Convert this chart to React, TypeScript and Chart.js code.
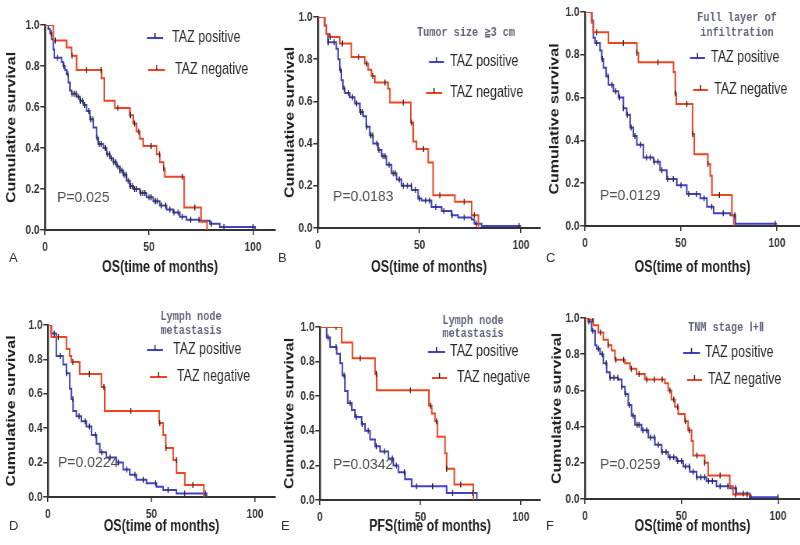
import React, { useEffect, useRef } from 'react';
import { Chart, registerables } from 'chart.js';
Chart.register(...registerables);

// ---------- shared labels ----------
const xTickValues = [0, 50, 100];
const yTickValues = [0, 0.2, 0.4, 0.6, 0.8, 1.0];
const seriesLabels = ['TAZ positive', 'TAZ negative'];
const yTitle = 'Cumulative survival';
const panelLetters = ['A', 'B', 'C', 'D', 'E', 'F'];
const xTitles = ['OS(time of months)', 'OS(time of months)', 'OS(time of months)', 'OS(time of months)', 'PFS(time of months)', 'OS(time of months)'];
const subtitles = [[], ['Tumor size ≧3 cm'], ['Full layer of', 'infiltration'], ['Lymph node', 'metastasis'], ['Lymph node', 'metastasis'], ['TNM stage Ⅰ+Ⅱ']];
const pValues = ['P=0.025', 'P=0.0183', 'P=0.0129', 'P=0.0224', 'P=0.0342', 'P=0.0259'];

// ---------- Panel A ----------
const aPosT = [0, 1.6, 2.4, 3.2, 4, 4.5, 8, 8.8, 9.6, 10.4, 11.2, 12, 12.8, 15.2, 16.8, 18.4, 20, 21.6, 23.2, 24.8, 25.6, 28, 29.6, 31.2, 32.8, 34.4, 36, 37.6, 39.2, 40.8, 42.4, 45.6, 48.8, 52, 55.2, 58.4, 61.6, 64.8, 68, 74.4, 79.2, 84, 101];
const aPosS = [1, 0.98, 0.96, 0.93, 0.88, 0.84, 0.82, 0.8, 0.78, 0.76, 0.72, 0.68, 0.665, 0.65, 0.63, 0.61, 0.58, 0.54, 0.5, 0.45, 0.42, 0.4, 0.37, 0.35, 0.33, 0.31, 0.29, 0.27, 0.24, 0.215, 0.2, 0.18, 0.16, 0.14, 0.12, 0.1, 0.085, 0.065, 0.05, 0.045, 0.03, 0.015, 0];
const aPosC = [3, 6, 9, 11, 13, 14, 15, 16, 17, 18, 19, 21, 22, 23, 25, 26, 27, 29, 30, 31, 32, 33, 34, 35, 36, 37, 38, 39, 40, 41, 42, 43, 44, 46, 47, 48, 50, 51, 53, 54, 56, 58, 60, 62, 64, 66, 70, 74, 80, 86, 100];
const aNegT = [0, 4, 10.4, 12.8, 15.2, 27.2, 28.5, 33.6, 40.8, 42.4, 44, 45.6, 47.2, 53.6, 55.2, 57, 57.6, 66.9, 75, 77.9];
const aNegS = [1, 0.925, 0.89, 0.85, 0.78, 0.74, 0.63, 0.595, 0.56, 0.52, 0.48, 0.445, 0.41, 0.37, 0.33, 0.3, 0.26, 0.11, 0.04, 0];
const aNegC = [5, 13, 20, 27, 35, 41, 43, 45, 51, 55, 57, 66, 72];

// ---------- Panel B ----------
const bPosT = [0, 3.3, 4.1, 4.9, 9, 9.9, 10.7, 11.5, 12.3, 13.2, 15.6, 18.1, 20.6, 22.2, 23.8, 25.5, 27.1, 29.6, 31.3, 33.7, 36.2, 38.7, 41.1, 46.1, 49.3, 51, 55.9, 60.9, 65.8, 69, 75.7, 77, 80.6, 100];
const bPosS = [1, 0.96, 0.92, 0.88, 0.85, 0.8, 0.75, 0.7, 0.66, 0.64, 0.62, 0.59, 0.55, 0.53, 0.48, 0.44, 0.4, 0.37, 0.34, 0.3, 0.26, 0.23, 0.2, 0.18, 0.14, 0.13, 0.1, 0.08, 0.06, 0.05, 0.04, 0.02, 0.01, 0.01];
const bPosC = [5, 8, 11, 13, 15, 17, 19, 21, 22, 24, 26, 27, 29, 30, 32, 33, 35, 37, 38, 40, 42, 44, 46, 48, 50, 53, 55, 58, 62, 66, 72, 78, 99];
const bNegT = [0, 3.3, 4.1, 5.7, 10.7, 16.4, 23, 24.7, 26.3, 28, 34.5, 35.4, 45.7, 46.9, 48.5, 54.3, 56.7, 67.4, 75.7, 79];
const bNegS = [1, 0.96, 0.92, 0.905, 0.875, 0.81, 0.78, 0.75, 0.72, 0.69, 0.66, 0.595, 0.5, 0.41, 0.375, 0.31, 0.155, 0.125, 0.06, 0];
const bNegC = [6, 12, 20, 24, 27, 33, 42, 46, 52, 60, 72, 77];

// ---------- Panel C ----------
const cPosT = [0, 3.5, 4.3, 5.2, 7.8, 8.7, 9.6, 11, 12.2, 14.8, 17.4, 20, 21.7, 23.5, 25.2, 27, 30.4, 35.7, 39.1, 42.6, 47.8, 53, 60, 63.5, 67, 75.7, 78.3, 100];
const cPosS = [1, 0.96, 0.88, 0.855, 0.82, 0.78, 0.74, 0.7, 0.66, 0.63, 0.6, 0.55, 0.52, 0.46, 0.42, 0.38, 0.32, 0.3, 0.26, 0.22, 0.19, 0.15, 0.13, 0.09, 0.06, 0.05, 0.01, 0.01];
const cPosC = [6, 9, 12, 14, 16, 18, 20, 22, 24, 26, 29, 32, 34, 36, 38, 40, 43, 46, 50, 54, 58, 62, 66, 72, 78, 99];
const cNegT = [0, 3.5, 4.3, 12.2, 27, 27.8, 46.1, 47, 47.5, 56, 56.9, 64, 65.2, 66.1, 76.5, 77.5];
const cNegS = [1, 0.95, 0.905, 0.855, 0.81, 0.765, 0.72, 0.62, 0.57, 0.43, 0.335, 0.29, 0.235, 0.145, 0.05, 0];
const cNegC = [6, 20, 27, 38, 47, 53, 56, 64, 70];

// ---------- Panel D ----------
const dPosT = [0, 1.6, 4, 7.3, 8.9, 10.5, 11.3, 12.1, 13.7, 16.1, 18.5, 21, 23.4, 25, 28.2, 33, 36.3, 39.5, 42.7, 47.6, 52.4, 55.6, 62, 76.6];
const dPosS = [1, 0.95, 0.82, 0.77, 0.72, 0.63, 0.57, 0.5, 0.47, 0.44, 0.41, 0.36, 0.31, 0.26, 0.23, 0.2, 0.16, 0.13, 0.1, 0.08, 0.06, 0.04, 0.02, 0];
const dPosC = [3, 6, 9, 12, 15, 18, 20, 23, 26, 30, 34, 38, 42, 46, 52, 58, 66, 76];
const dNegT = [0, 1.6, 8.9, 10.5, 11.3, 15.3, 25.8, 27.4, 53.7, 55.6, 56.9, 60.5, 62.1, 66.1, 75.3];
const dNegS = [1, 0.93, 0.86, 0.82, 0.785, 0.715, 0.64, 0.5, 0.43, 0.36, 0.285, 0.215, 0.14, 0.07, 0];
const dNegC = [5, 12, 20, 27, 40, 54, 57, 62, 70];

// ---------- Panel E ----------
const ePosT = [0, 3.3, 5, 8.3, 10, 11.1, 12.4, 13.8, 15.8, 17.4, 20.7, 22.4, 24.9, 27.4, 29.9, 34, 36.5, 39, 42.3, 45.6, 63, 78];
const ePosS = [1, 0.94, 0.885, 0.845, 0.79, 0.72, 0.63, 0.56, 0.52, 0.48, 0.44, 0.4, 0.35, 0.31, 0.28, 0.24, 0.2, 0.16, 0.12, 0.08, 0.04, 0];
const ePosC = [4, 8, 12, 15, 18, 21, 24, 28, 32, 36, 38, 42, 48, 56, 66, 76];
const eNegT = [0, 10.8, 16.1, 27.4, 28.2, 54.2, 55.6, 57.2, 58.4, 62.2, 63, 66.8, 76.3];
const eNegS = [1, 0.91, 0.82, 0.73, 0.635, 0.545, 0.5, 0.455, 0.365, 0.27, 0.18, 0.09, 0];
const eNegC = [8, 20, 28, 45, 55, 58, 63, 70];

// ---------- Panel F ----------
const fPosT = [0, 1.7, 3.4, 5.2, 6, 7.8, 9.5, 11.2, 12.9, 17.2, 19, 20.7, 22.4, 24.1, 25.9, 29.3, 32.8, 36.2, 39.7, 43.1, 47.4, 50.9, 54.3, 57.8, 62.9, 68.1, 75, 78.4, 85.3, 100];
const fPosS = [1, 0.98, 0.93, 0.85, 0.83, 0.8, 0.75, 0.7, 0.67, 0.66, 0.62, 0.58, 0.52, 0.46, 0.41, 0.38, 0.34, 0.3, 0.26, 0.23, 0.21, 0.18, 0.15, 0.12, 0.1, 0.07, 0.06, 0.03, 0.01, 0.01];
const fPosC = [2, 4, 7, 9, 11, 13, 15, 17, 19, 21, 23, 25, 27, 28, 30, 32, 34, 36, 38, 40, 42, 44, 46, 48, 50, 52, 54, 56, 58, 60, 62, 64, 66, 70, 74, 78, 82, 86, 100];
const fNegT = [0, 1.7, 4.3, 6.9, 9.5, 12, 13.8, 15.5, 20.7, 23.3, 26.7, 31, 41.4, 43.1, 44.8, 46.6, 48.3, 51.7, 53.4, 55.2, 56, 62, 63.8, 75, 76.7, 86];
const fNegS = [1, 0.99, 0.96, 0.92, 0.88, 0.85, 0.82, 0.77, 0.75, 0.72, 0.69, 0.66, 0.64, 0.6, 0.55, 0.51, 0.47, 0.43, 0.38, 0.32, 0.24, 0.2, 0.13, 0.07, 0.025, 0.025];
const fNegC = [4, 8, 12, 16, 20, 24, 28, 32, 36, 40, 44, 46, 48, 52, 54, 58, 62, 70, 78, 84];

const curves = [
  { pos: [aPosT, aPosS, aPosC], neg: [aNegT, aNegS, aNegC] },
  { pos: [bPosT, bPosS, bPosC], neg: [bNegT, bNegS, bNegC] },
  { pos: [cPosT, cPosS, cPosC], neg: [cNegT, cNegS, cNegC] },
  { pos: [dPosT, dPosS, dPosC], neg: [dNegT, dNegS, dNegC] },
  { pos: [ePosT, ePosS, ePosC], neg: [eNegT, eNegS, eNegC] },
  { pos: [fPosT, fPosS, fPosC], neg: [fNegT, fNegS, fNegC] },
];

// ---------- layout (page pixels) ----------
const layouts = [
  { x0: 45, x100: 253, xEnd: 275, y1: 25, y0: 230, yTitleX: 12, xTitleY: 268, letter: [13, 258],
    legend: [[147, 163, 38, 172], [148, 165, 70, 175]], sub: { cx: 0, ys: [] as number[] }, p: [57, 198] },
  { x0: 318, x100: 521, xEnd: 540, y1: 17, y0: 228, yTitleX: 290, xTitleY: 268, letter: [282, 258],
    legend: [[429, 444, 62, 450], [426, 442, 93, 450]], sub: { cx: 466, ys: [33] }, p: [333, 197] },
  { x0: 585, x100: 777, xEnd: 800, y1: 12, y0: 226, yTitleX: 555, xTitleY: 268, letter: [550, 258],
    legend: [[690, 705, 58, 711], [693, 708, 90, 714]], sub: { cx: 737, ys: [18, 33] }, p: [600, 196] },
  { x0: 48, x100: 255, xEnd: 275, y1: 325, y0: 497, yTitleX: 12, xTitleY: 527, letter: [13, 526],
    legend: [[147, 163, 350, 173], [150, 167, 377, 177]], sub: { cx: 191, ys: [317, 331] }, p: [58, 463] },
  { x0: 320, x100: 521, xEnd: 540, y1: 327, y0: 500, yTitleX: 290, xTitleY: 527, letter: [285, 526],
    legend: [[428, 445, 352, 450], [432, 447, 378, 457]], sub: { cx: 473, ys: [321, 334] }, p: [333, 465] },
  { x0: 585, x100: 778, xEnd: 800, y1: 318, y0: 499, yTitleX: 557, xTitleY: 527, letter: [550, 526],
    legend: [[683, 700, 353, 705], [687, 702, 380, 708]], sub: { cx: 726, ys: [328] }, p: [600, 465] },
];

const BLUE = '#4242c4';
const RED = '#ee4422';
const CENSOR = '#2b2b2b';
const SANS = '"Liberation Sans", Arial, sans-serif';
const MONO = '"Liberation Mono", "DejaVu Sans Mono", monospace';

// the original figure is horizontally compressed; render wider and squeeze with CSS
const SQUEEZE = 0.78;
const Y_W = 50, X_H = 55, PAD_T = 20, PAD_R = 5;

function stepAt(ts: number[], ss: number[], t: number) {
  let v = ss[0];
  for (let i = 0; i < ts.length; i++) {
    if (ts[i] <= t) v = ss[i];
    else break;
  }
  return v;
}

function Panel({ idx }: { idx: number }) {
  const ref = useRef<HTMLCanvasElement>(null);
  const L = layouts[idx];
  const left = L.x0 - Y_W;
  const top = L.y1 - PAD_T;
  const width = (L.xEnd - L.x0) + Y_W + PAD_R;
  const height = (L.y0 - L.y1) + PAD_T + X_H;
  const innerW = Math.round(width / SQUEEZE);
  const sx = width / innerW;

  useEffect(() => {
    const c = curves[idx];
    const xMax = 100 * (L.xEnd - L.x0) / (L.x100 - L.x0);
    const X = (px: number) => (px - left) / sx;
    const Y = (py: number) => py - top;
    const line = (ts: number[], ss: number[]) => ts.map((t, i) => ({ x: t, y: ss[i] }));
    const cens = (ts: number[], ss: number[], cs: number[]) => cs.map((t) => ({ x: t, y: stepAt(ts, ss, t) }));
    const censorDs = (data: any[]) => ({
      data, showLine: false, pointStyle: 'line', pointRotation: 90, pointRadius: 3,
      pointBorderColor: CENSOR, pointBorderWidth: 1.4, pointBackgroundColor: CENSOR,
    });
    const lineDs = (data: any[], color: string, label: string) => ({
      label, data, borderColor: color, borderWidth: 2, stepped: 'before', pointRadius: 0, fill: false, tension: 0,
    });

    const overlay = {
      id: 'overlay' + idx,
      afterDraw(chart: any) {
        const ctx = chart.ctx;
        ctx.save();
        // legend
        L.legend.forEach((lg, i) => {
          const [x1, x2, y, tx] = lg;
          const color = i === 0 ? BLUE : RED;
          ctx.strokeStyle = color;
          ctx.lineWidth = 2;
          ctx.beginPath();
          ctx.moveTo(X(x1), Y(y));
          ctx.lineTo(X(x2), Y(y));
          ctx.stroke();
          ctx.strokeStyle = CENSOR;
          ctx.lineWidth = 1.5;
          const mx = X((x1 + x2) / 2);
          ctx.beginPath();
          ctx.moveTo(mx, Y(y) - 5);
          ctx.lineTo(mx, Y(y));
          ctx.stroke();
          ctx.fillStyle = '#2a2a2a';
          ctx.font = '16px ' + SANS;
          ctx.textAlign = 'left';
          ctx.textBaseline = 'middle';
          ctx.fillText(seriesLabels[i], X(tx), Y(y));
        });
        // subtitle (not compressed in the original)
        subtitles[idx].forEach((s, i) => {
          ctx.save();
          ctx.translate(X(L.sub.cx), Y(L.sub.ys[i]));
          ctx.scale(0.85 / sx, 1);
          ctx.fillStyle = '#64647e';
          ctx.font = 'bold 12px ' + MONO;
          ctx.textAlign = 'center';
          ctx.textBaseline = 'middle';
          ctx.fillText(s, 0, 0);
          ctx.restore();
        });
        // p-value (not compressed in the original)
        ctx.save();
        ctx.translate(X(L.p[0]), Y(L.p[1]));
        ctx.scale(1 / sx, 1);
        ctx.fillStyle = '#505050';
        ctx.font = '14px ' + SANS;
        ctx.textAlign = 'left';
        ctx.textBaseline = 'middle';
        ctx.fillText(pValues[idx], 0, 0);
        ctx.restore();
        ctx.restore();
      },
    };

    const tickFont = { family: SANS, size: 13, weight: 'bold' as const };
    const chart = new Chart(ref.current as HTMLCanvasElement, {
      type: 'line',
      data: {
        datasets: [
          censorDs(cens(c.neg[0], c.neg[1], c.neg[2])),
          censorDs(cens(c.pos[0], c.pos[1], c.pos[2])),
          lineDs(line(c.neg[0], c.neg[1]), RED, seriesLabels[1]),
          lineDs(line(c.pos[0], c.pos[1]), BLUE, seriesLabels[0]),
        ] as any,
      },
      options: {
        animation: false,
        responsive: false,
        maintainAspectRatio: false,
        devicePixelRatio: 1,
        events: [],
        layout: { padding: { left: 0, top: PAD_T, right: PAD_R / sx, bottom: 0 } },
        plugins: { legend: { display: false }, tooltip: { enabled: false } },
        scales: {
          x: {
            type: 'linear', min: 0, max: xMax,
            afterBuildTicks: (s: any) => { s.ticks = xTickValues.map((v) => ({ value: v })); },
            afterFit: (s: any) => { s.height = X_H; },
            grid: { display: true, drawOnChartArea: false, drawTicks: true, tickLength: 5, color: '#333', lineWidth: 1.5 },
            border: { display: true, color: '#333', width: 2 },
            ticks: { font: tickFont, color: '#333', padding: 5, maxRotation: 0, autoSkip: false, callback: (v: any) => String(v) },
            title: {
              display: true, text: xTitles[idx], color: '#222',
              font: { family: SANS, size: 16, weight: 'bold' },
              padding: { top: 0, bottom: (L.y0 + X_H) - 9.6 - L.xTitleY },
            },
          },
          y: {
            type: 'linear', min: 0, max: 1,
            afterBuildTicks: (s: any) => { s.ticks = yTickValues.map((v) => ({ value: v })); },
            afterFit: (s: any) => { s.width = Y_W / sx; },
            grid: { display: true, drawOnChartArea: false, drawTicks: true, tickLength: 6, color: '#333', lineWidth: 1.5 },
            border: { display: true, color: '#333', width: 2.4 },
            ticks: { font: tickFont, color: '#333', padding: 1, autoSkip: false, callback: (v: any) => Number(v).toFixed(1) },
            title: {
              display: true, text: yTitle, color: '#222',
              font: { family: SANS, size: 16, weight: 'bold' },
              padding: { top: (L.yTitleX - left) / sx - 9.6, bottom: 0 },
            },
          },
        },
      } as any,
      plugins: [overlay],
    });
    return () => chart.destroy();
  }, []);

  return (
    <canvas
      ref={ref}
      width={innerW}
      height={height}
      style={{ position: 'absolute', left, top, width, height }}
    />
  );
}

export default function App() {
  return (
    <div style={{ position: 'fixed', left: 0, top: 0, width: 800, height: 545, overflow: 'hidden', background: '#fff' }}>
      {layouts.map((_, i) => <Panel key={i} idx={i} />)}
      {layouts.map((L, i) => (
        <div
          key={'l' + i}
          style={{
            position: 'absolute', left: L.letter[0] - 4, top: L.letter[1] - 8,
            font: '13px ' + SANS, lineHeight: '16px', color: '#333',
          }}
        >
          {panelLetters[i]}
        </div>
      ))}
    </div>
  );
}
